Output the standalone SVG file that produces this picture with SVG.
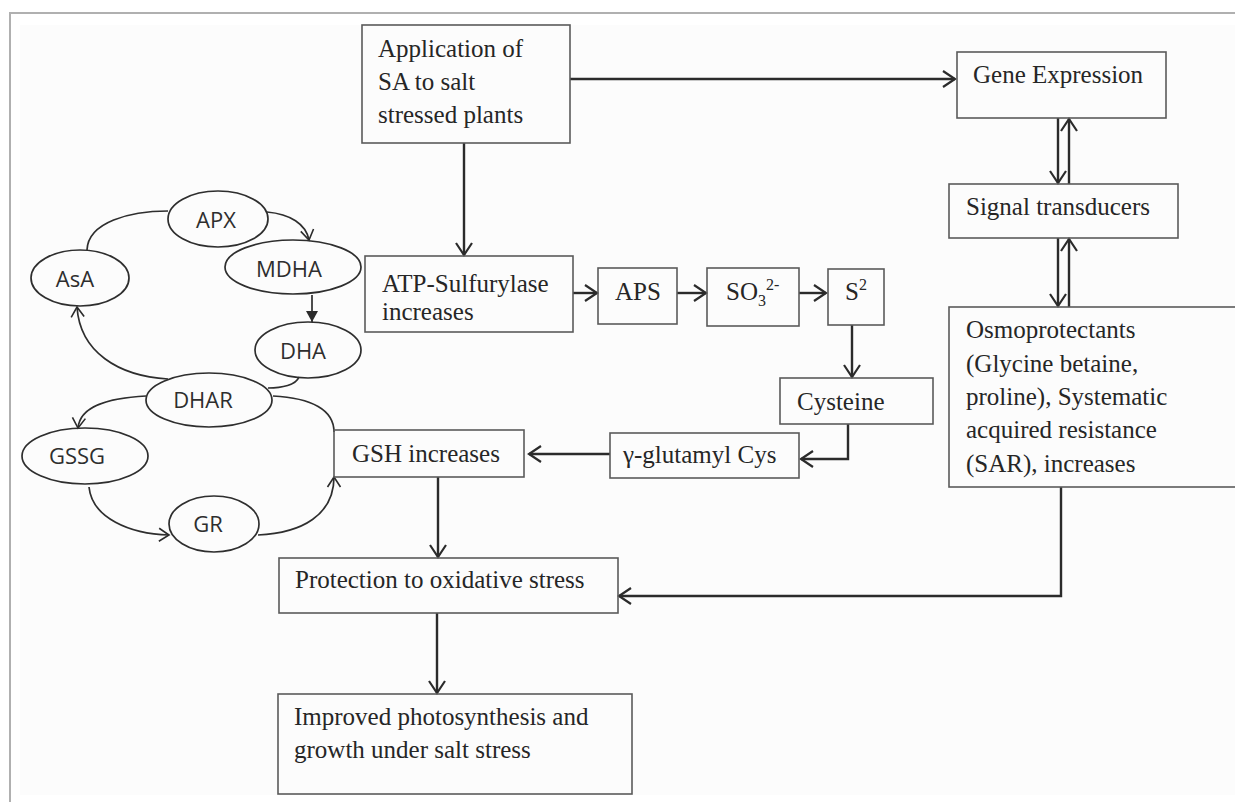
<svg xmlns="http://www.w3.org/2000/svg" width="1235" height="802" viewBox="0 0 1235 802">
<defs>
<marker id="arr" viewBox="0 0 16 18" refX="14" refY="9" markerWidth="16" markerHeight="18" markerUnits="userSpaceOnUse" orient="auto">
<path d="M2,1 L14,9 L2,17" fill="none" stroke="#2b2b2b" stroke-width="2.2"/>
</marker>
<marker id="arrs" viewBox="0 0 14 16" refX="12" refY="8" markerWidth="14" markerHeight="16" markerUnits="userSpaceOnUse" orient="auto">
<path d="M2,1.5 L12,8 L2,14.5" fill="none" stroke="#2b2b2b" stroke-width="1.6"/>
</marker>
<marker id="arrf" viewBox="0 0 12 12" refX="11" refY="6" markerWidth="12" markerHeight="12" markerUnits="userSpaceOnUse" orient="auto">
<path d="M0,0 L11,6 L0,12 Z" fill="#2b2b2b"/>
</marker>
</defs>
<style>
.box{fill:none;stroke:#5a5a5a;stroke-width:1.6}
.t{font-family:"Liberation Serif","Times New Roman",serif;font-size:25px;fill:#262626}
.ell{fill:none;stroke:#2e2e2e;stroke-width:1.7}
.e{font-family:"Open Sans","Liberation Sans",sans-serif;font-size:22px;fill:#2e2e2e;text-anchor:middle}
.c{fill:none;stroke:#2b2b2b;stroke-width:2.4}
.cs{fill:none;stroke:#2e2e2e;stroke-width:1.7}
</style>
<rect x="0" y="0" width="1235" height="802" fill="#ffffff"/>
<rect x="20" y="25" width="1215" height="770" fill="#fcfcfc"/>
<g id="frame" stroke="#b0b0b0" stroke-width="2" fill="none">
<path d="M10,802 L10,13 L1235,13"/>
</g>

<g id="connectors">
<path class="c" d="M570,79 L955,79" marker-end="url(#arr)"/>
<path class="c" d="M464,143 L464,255" marker-end="url(#arr)"/>
<path class="c" d="M1058,118 L1058,183" marker-end="url(#arr)"/>
<path class="c" d="M1069,184 L1069,119" marker-end="url(#arr)"/>
<path class="c" d="M1058,238 L1058,306" marker-end="url(#arr)"/>
<path class="c" d="M1069,307 L1069,239" marker-end="url(#arr)"/>
<path class="c" d="M573,293 L597,293" marker-end="url(#arr)"/>
<path class="c" d="M677,293 L706,293" marker-end="url(#arr)"/>
<path class="c" d="M799,293 L826,293" marker-end="url(#arr)"/>
<path class="c" d="M852,325 L852,377" marker-end="url(#arr)"/>
<path class="c" d="M848,424 L848,459 L801,459" marker-end="url(#arr)"/>
<path class="c" d="M610,454 L529,454" marker-end="url(#arr)"/>
<path class="c" d="M438,477 L438,557" marker-end="url(#arr)"/>
<path class="c" d="M1061,487 L1061,596 L619,596" marker-end="url(#arr)"/>
<path class="c" d="M437,613 L437,693" marker-end="url(#arr)"/>
<path class="cs" d="M87,250 C88,222 130,211 168,211"/>
<path class="cs" d="M267,212 C290,214 306,224 309,240" marker-end="url(#arrs)"/>
<path class="cs" d="M312,295 L312,322" marker-end="url(#arrf)"/>
<path class="cs" d="M299,377 C296,385 282,388 268,388"/>
<path class="cs" d="M168,379 C118,376 80,352 77,307" marker-end="url(#arrs)"/>
<path class="cs" d="M146,396 C108,398 80,406 78,428" marker-end="url(#arrs)"/>
<path class="cs" d="M273,396 C312,398 334,410 334,432"/>
<path class="cs" d="M89,487 C92,518 130,534 169,535" marker-end="url(#arrs)"/>
<path class="cs" d="M258,535 C302,533 334,515 334,477" marker-end="url(#arrs)"/>
</g>

<g id="n-app"><rect class="box" x="362" y="25" width="208" height="118"/>
<text class="t" x="378" y="57">Application of</text>
<text class="t" x="378" y="90">SA to salt</text>
<text class="t" x="378" y="123">stressed plants</text></g>
<g id="n-gene"><rect class="box" x="957" y="52" width="209" height="66"/>
<text class="t" x="973" y="83">Gene Expression</text></g>
<g id="n-signal"><rect class="box" x="949" y="184" width="229" height="54"/>
<text class="t" x="966" y="215">Signal transducers</text></g>
<g id="n-osmo"><rect class="box" x="949" y="307" width="300" height="180"/>
<text class="t" x="966" y="338">Osmoprotectants</text>
<text class="t" x="966" y="372">(Glycine betaine,</text>
<text class="t" x="966" y="405">proline), Systematic</text>
<text class="t" x="966" y="438">acquired resistance</text>
<text class="t" x="966" y="472">(SAR), increases</text></g>
<g id="n-atp"><rect class="box" x="365" y="256" width="208" height="76"/>
<text class="t" x="382" y="292">ATP-Sulfurylase</text>
<text class="t" x="382" y="320">increases</text></g>
<g id="n-aps"><rect class="box" x="598" y="268" width="79" height="56"/>
<text class="t" x="615" y="300">APS</text></g>
<g id="n-so3"><rect class="box" x="707" y="268" width="92" height="58"/>
<text class="t" x="726" y="300">SO<tspan font-size="16" dy="6">3</tspan><tspan font-size="16" dy="-16">2-</tspan></text></g>
<g id="n-s2"><rect class="box" x="828" y="269" width="56" height="56"/>
<text class="t" x="845" y="300">S<tspan font-size="16" dy="-10">2</tspan></text></g>
<g id="n-cys"><rect class="box" x="780" y="378" width="153" height="46"/>
<text class="t" x="797" y="410">Cysteine</text></g>
<g id="n-ggc"><rect class="box" x="610" y="433" width="189" height="45"/>
<text class="t" x="623" y="463">γ-glutamyl Cys</text></g>
<g id="n-gsh"><rect class="box" x="334" y="430" width="190" height="47"/>
<text class="t" x="352" y="462">GSH increases</text></g>
<g id="n-prot"><rect class="box" x="279" y="558" width="339" height="55"/>
<text class="t" x="295" y="588">Protection to oxidative stress</text></g>
<g id="n-impr"><rect class="box" x="278" y="694" width="354" height="100"/>
<text class="t" x="294" y="725">Improved photosynthesis and</text>
<text class="t" x="294" y="758">growth under salt stress</text></g>

<g id="n-apx"><ellipse class="ell" cx="218" cy="219" rx="50" ry="28"/><text class="e" x="216" y="228">APX</text></g>
<g id="n-mdha"><ellipse class="ell" cx="293" cy="267" rx="68" ry="27"/><text class="e" x="289" y="277">MDHA</text></g>
<g id="n-asa"><ellipse class="ell" cx="80" cy="278" rx="49" ry="28"/><text class="e" x="75" y="287">AsA</text></g>
<g id="n-dha"><ellipse class="ell" cx="308" cy="350" rx="53" ry="28"/><text class="e" x="303" y="359">DHA</text></g>
<g id="n-dhar"><ellipse class="ell" cx="209" cy="400" rx="63" ry="27"/><text class="e" x="203" y="408">DHAR</text></g>
<g id="n-gssg"><ellipse class="ell" cx="85" cy="456" rx="63" ry="28"/><text class="e" x="77" y="464">GSSG</text></g>
<g id="n-gr"><ellipse class="ell" cx="214" cy="524" rx="45" ry="28"/><text class="e" x="208" y="532">GR</text></g>
</svg>
